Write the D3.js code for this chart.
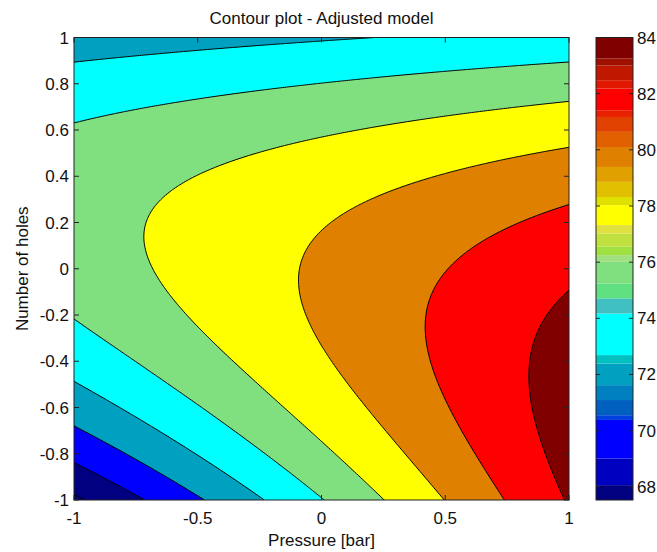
<!DOCTYPE html>
<html><head><meta charset="utf-8">
<script src="https://cdn.jsdelivr.net/npm/d3@7/dist/d3.min.js"></script>
<style>
body{margin:0;background:#fff;}
text{font-family:"Liberation Sans",Arial,sans-serif;fill:#111;}
</style>
</head><body><svg id="c" width="657" height="552"></svg>
<script>
const title = "Contour plot - Adjusted model";
const xLabel = "Pressure [bar]";
const yLabel = "Number of holes";
const xTicks = [-1, -0.5, 0, 0.5, 1];
const yTicks = [-1, -0.8, -0.6, -0.4, -0.2, 0, 0.2, 0.4, 0.6, 0.8, 1];
const levels = [66, 68, 70, 72, 74, 76, 78, 80, 82];
const fillColors = ["#000080", "#000080", "#0000ff", "#00a0c0", "#00ffff", "#80e080", "#ffff00", "#e08000", "#ff0000", "#800000"];
const cbTicks = [68, 70, 72, 74, 76, 78, 80, 82, 84];
const cbBreaks = [67.53, 68.06, 69.01, 70.38, 70.55, 71.09, 71.62, 72.39, 72.69, 74.17, 74.71, 75.24, 76.01, 76.25, 76.55, 77.02, 77.32, 78.03, 78.32, 78.86, 79.39, 80.10, 80.64, 81.17, 81.41, 82.18, 82.48, 83.0, 83.25, 84];
const cbColors = ["#000080","#0000c0","#0000ff","#0040e0","#0060c0","#0080c0","#00a0c0","#00c0c0","#00ffff","#40c0c0","#60e080","#80e080","#a0e080","#a0e040","#c0e040","#e0e040","#ffff00","#e0e000","#e0c000","#e0a000","#e08000","#e06000","#e04000","#e82000","#ff0000","#e01800","#c01800","#a01000","#800000"];

// adjusted response-surface model (coded pressure x, coded holes y)
const modelTerms = ["1", "x", "y", "x^2", "xy", "y^2", "x^3", "x^2y", "xy^2", "y^3"];
const modelCoefs = [78.298, 3.348, -0.893, -0.034, -3.703, -5.435, -0.002, -0.016, 1.210, -0.153];

const basis = (x, y) => [1, x, y, x*x, x*y, y*y, x*x*x, x*x*y, x*y*y, y*y*y];
const model = (x, y) => d3.sum(basis(x, y), (v, i) => v*modelCoefs[i]);

const svg = d3.select("#c");
const L = 74, R = 569, T = 37.5, B = 500;
const x = d3.scaleLinear().domain([-1, 1]).range([L, R]);
const y = d3.scaleLinear().domain([-1, 1]).range([B, T]);

const nx = 250, ny = 232;
const values = new Float64Array(nx*ny);
for (let j = 0; j < ny; j++) for (let i = 0; i < nx; i++) {
  values[j*nx + i] = model(x.invert(L + (R - L)*i/(nx-1)), y.invert(T + (B - T)*j/(ny-1)));
}
const gx = d3.scaleLinear().domain([0.5, nx - 0.5]).range([L, R]);
const gy = d3.scaleLinear().domain([0.5, ny - 0.5]).range([T, B]);
const path = d3.geoPath(d3.geoTransform({point(px, py) { this.stream.point(gx(px), gy(py)); }}));
const cont = d3.contours().size([nx, ny]).thresholds(levels)(values);

svg.append("clipPath").attr("id", "clip").append("rect").attr("x", L).attr("y", T).attr("width", R - L).attr("height", B - T);
const g = svg.append("g").attr("clip-path", "url(#clip)");
g.append("rect").attr("x", L).attr("y", T).attr("width", R - L).attr("height", B - T).attr("fill", fillColors[0]);
g.selectAll("path.f").data(cont).join("path").attr("class", "f").attr("d", path).attr("fill", (d, i) => fillColors[i + 1]).attr("stroke", "none");
g.selectAll("path.l").data(cont).join("path").attr("class", "l").attr("d", path).attr("fill", "none").attr("stroke", "#000").attr("stroke-width", 1);

// axes box and ticks
const ax = svg.append("g");
ax.append("rect").attr("x", L).attr("y", T).attr("width", R - L).attr("height", B - T).attr("fill", "none").attr("stroke", "#222").attr("stroke-width", 1);
const tl = 5;
xTicks.forEach(v => {
  ax.append("line").attr("x1", x(v)).attr("x2", x(v)).attr("y1", B).attr("y2", B - tl).attr("stroke", "#222");
  ax.append("line").attr("x1", x(v)).attr("x2", x(v)).attr("y1", T).attr("y2", T + tl).attr("stroke", "#222");
  ax.append("text").attr("x", x(v)).attr("y", 524).attr("text-anchor", "middle").attr("font-size", 17).text(String(v));
});
yTicks.forEach(v => {
  ax.append("line").attr("x1", L).attr("x2", L + tl).attr("y1", y(v)).attr("y2", y(v)).attr("stroke", "#222");
  ax.append("line").attr("x1", R).attr("x2", R - tl).attr("y1", y(v)).attr("y2", y(v)).attr("stroke", "#222");
  ax.append("text").attr("x", 69).attr("y", y(v) + 6).attr("text-anchor", "end").attr("font-size", 17).text(String(+v.toFixed(1)));
});
svg.append("text").attr("x", (L + R)/2).attr("y", 24).attr("text-anchor", "middle").attr("font-size", 17).text(title);
svg.append("text").attr("x", (L + R)/2).attr("y", 546).attr("text-anchor", "middle").attr("font-size", 17).text(xLabel);
svg.append("text").attr("transform", `translate(28,${(T + B)/2}) rotate(-90)`).attr("text-anchor", "middle").attr("font-size", 17).text(yLabel);

// colorbar
const CL = 596, CR = 633;
const cy = d3.scaleLinear().domain([cbBreaks[0], cbBreaks[cbBreaks.length - 1]]).range([B, T]);
const cb = svg.append("g");
cbColors.forEach((c, i) => {
  cb.append("rect").attr("x", CL).attr("width", CR - CL).attr("y", cy(cbBreaks[i + 1])).attr("height", cy(cbBreaks[i]) - cy(cbBreaks[i + 1])).attr("fill", c);
});
cb.append("rect").attr("x", CL).attr("y", T).attr("width", CR - CL).attr("height", B - T).attr("fill", "none").attr("stroke", "#222");
cbTicks.forEach(v => {
  cb.append("line").attr("x1", CL).attr("x2", CL + 4).attr("y1", cy(v)).attr("y2", cy(v)).attr("stroke", "#222");
  cb.append("line").attr("x1", CR).attr("x2", CR - 4).attr("y1", cy(v)).attr("y2", cy(v)).attr("stroke", "#222");
  cb.append("text").attr("x", 637).attr("y", cy(v) + 6).attr("font-size", 17).text(v);
});
</script>
</body></html>
